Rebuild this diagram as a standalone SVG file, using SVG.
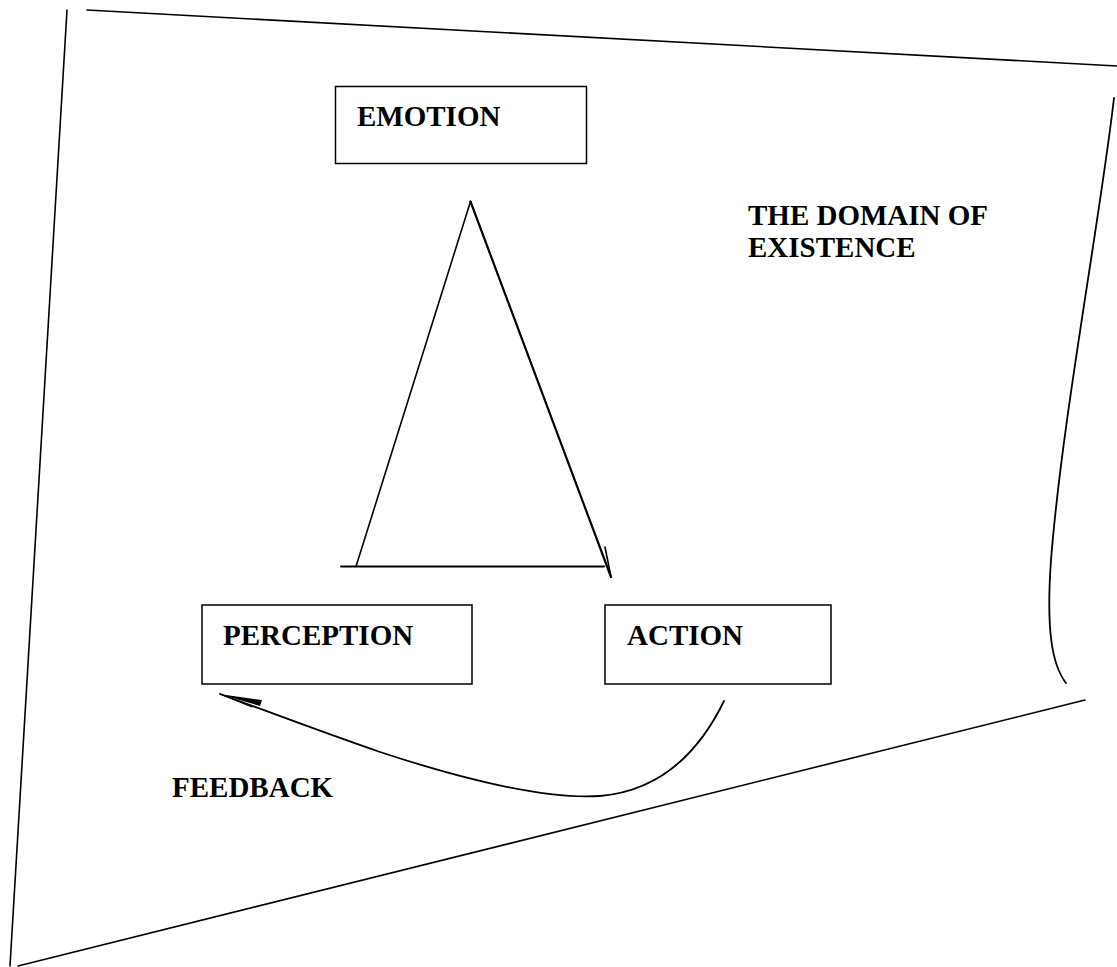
<svg xmlns="http://www.w3.org/2000/svg" width="1117" height="967" viewBox="0 0 1117 967">
<style>
.box{fill:#fff;stroke:#000;stroke-width:1.5}
.lbl{font-family:"Liberation Serif","Times New Roman",serif;font-weight:bold;font-size:29px;fill:#000}
.ln{fill:none;stroke:#000;stroke-linecap:round}
</style>
<rect width="1117" height="967" fill="#fff"/>
<g id="domain">
<path class="ln" stroke-width="1.6" d="M67,10 L10,966"/>
<path class="ln" stroke-width="1.6" d="M18,966 L1085,700"/>
<path class="ln" stroke-width="1.6" d="M87,10 L1117,66"/>
<path class="ln" stroke-width="1.8" d="M1114,98 C1100,220 1062,420 1051,560 C1046,630 1052,665 1066,683"/>
<text class="lbl" x="748" y="225">THE DOMAIN OF</text>
<text class="lbl" x="748" y="257">EXISTENCE</text>
</g>
<g id="emotion">
<rect class="box" x="335.5" y="86.5" width="251" height="77"/>
<text class="lbl" x="357" y="126">EMOTION</text>
</g>
<g id="perception">
<rect class="box" x="202" y="605" width="270" height="79"/>
<text class="lbl" x="223" y="645">PERCEPTION</text>
</g>
<g id="action">
<rect class="box" x="605" y="605" width="226" height="79"/>
<text class="lbl" x="627" y="645">ACTION</text>
</g>
<g id="feedback">
<text class="lbl" x="172" y="797">FEEDBACK</text>
</g>
<g id="connectors">
<path class="ln" stroke-width="1.6" d="M470.5,201.5 L356,566.5"/>
<path class="ln" stroke-width="2" d="M341,566.5 L604,566.5"/>
<path class="ln" stroke-width="2.2" d="M470.5,201.5 L611,577"/>
<path class="ln" stroke-width="1.6" d="M605,547 L611,577"/>
<path class="ln" stroke-width="1.8" d="M724,701 C705,740 670,790 600,796 C540,800 450,775 380,752 C330,735 280,716 220,694"/>
<polygon points="219,694 262,700 260,706" fill="#000"/>
<path class="ln" stroke-width="1.2" d="M220,694 L252,707"/>
</g>
</svg>
